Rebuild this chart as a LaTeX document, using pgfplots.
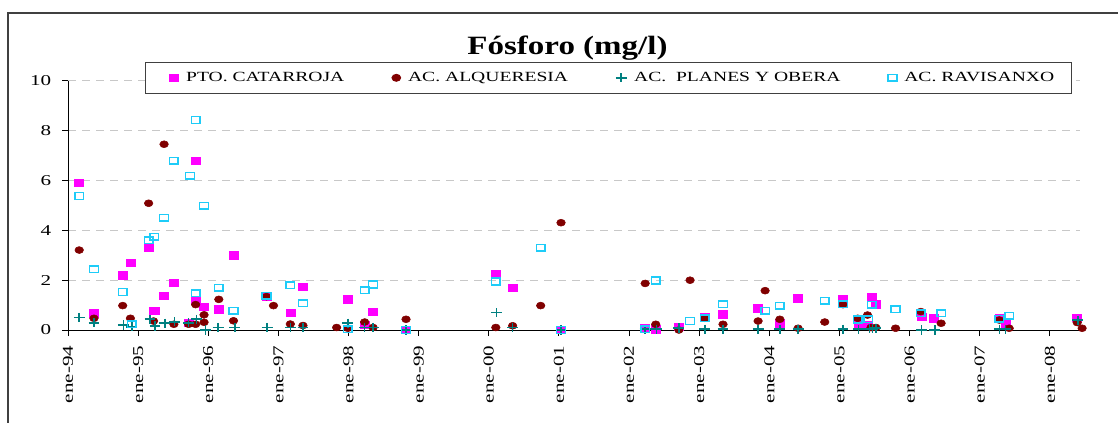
\documentclass[border=0pt]{standalone}
\usepackage{fontspec}
\setmainfont{Liberation Serif}[FakeStretch=1.4]
\newfontfamily\titlefont{Liberation Serif}[FakeStretch=1.25]
\usepackage{pgfplots}
\pgfplotsset{compat=1.18}
\pgfplotsset{firstlegend/.style={legend image code/.code={\path (-10.4pt,0pt); \draw[##1] plot coordinates {(0pt,0pt)};}}}
\definecolor{cPink}{HTML}{FF00FF}
\definecolor{cRed}{HTML}{800000}
\definecolor{cTeal}{HTML}{008080}
\definecolor{cCyan}{HTML}{1ECCF8}
\definecolor{cGrid}{HTML}{C8C8C8}
\definecolor{cFrame}{HTML}{404040}
\begin{document}
\begin{tikzpicture}
\useasboundingbox (0,0) rectangle (838.5pt,316.5pt);
\draw[cFrame, line width=1.2pt] (6pt,-2pt) -- (6pt,306.75pt) -- (840pt,306.75pt);
\begin{axis}[
  at={(51pt,69pt)}, anchor=south west,
  width=759pt, height=186.75pt, scale only axis,
  xmin=1994, xmax=2008.43, ymin=0, ymax=10,
  clip=false,
  axis lines*=left,
  axis line style={black, line width=0.75pt},
  tick align=outside, major tick length=4.5pt,
  tick style={black, line width=0.75pt},
  xtick={1994,1995,1996,1997,1998,1999,2000,2001,2002,2003,2004,2005,2006,2007,2008},
  xticklabels={ene-94,ene-95,ene-96,ene-97,ene-98,ene-99,ene-00,ene-01,ene-02,ene-03,ene-04,ene-05,ene-06,ene-07,ene-08},
  xticklabel style={rotate=90, anchor=east, font=\fontsize{11.3}{13}\selectfont},
  xticklabel shift=3.75pt,
  ytick={0,2,4,6,8,10},
  yticklabel style={font=\fontsize{11.3}{13}\selectfont, /pgf/number format/assume math mode=true},
  yticklabel shift=4.5pt,
  ymajorgrids,
  major grid style={cGrid, line width=0.75pt, dash pattern=on 6pt off 4.5pt},
  title={Fósforo (mg/l)},
  title style={at={(axis description cs:0.4936,1.10)}, anchor=center, font=\titlefont\bfseries\fontsize{19.8}{22}\selectfont},
  legend columns=4,
  legend style={at={(axis description cs:0.0761,1.0763)}, anchor=north west,
    draw=cFrame, line width=0.75pt, fill=white,
    font=\fontsize{10.5}{12}\selectfont,
    inner xsep=10.75pt, inner ysep=5.25pt,
    nodes={inner sep=2pt},
    cells={anchor=west},
    /tikz/every odd column/.append style={column sep=3.6pt},
    /tikz/every even column/.append style={column sep=33.75pt}},
  legend image code/.code={\draw[#1] plot coordinates {(0pt,0pt)};},
]
\addplot[only marks, mark=square*, mark size=2.75pt, color=cPink, mark options={xscale=1.23}, firstlegend] coordinates {
(1994.16,5.9)(1994.37,0.67)(1994.78,2.2)(1994.89,2.69)(1995.15,3.3)(1995.23,0.78)(1995.37,1.38)(1995.51,1.89)
(1995.72,0.29)(1995.82,6.8)(1995.82,1.2)(1995.94,0.93)(1996.15,0.83)(1996.36,3.0)(1996.83,1.34)(1997.17,0.68)
(1997.35,1.74)(1997.99,1.23)(1998.23,0.2)(1998.35,0.72)(1998.82,0.0)(2000.10,2.24)(2000.34,1.7)(2001.03,0.0)
(2002.23,0.07)(2002.38,0.03)(2002.71,0.13)(2003.08,0.53)(2003.34,0.63)(2003.84,0.87)(2004.15,0.27)(2004.41,1.27)
(2005.05,1.24)(2005.27,0.25)(2005.41,0.2)(2005.46,1.34)(2005.52,1.03)(2006.17,0.53)(2006.35,0.47)(2007.28,0.47)
(2007.37,0.27)(2008.39,0.49)
};
\addlegendentry{PTO. CATARROJA}
\addplot[only marks, mark=*, mark size=2.6pt, color=cRed, mark options={xscale=1.24}] coordinates {
(1994.16,3.21)(1994.37,0.47)(1994.78,0.98)(1994.89,0.47)(1995.15,5.09)(1995.22,0.36)(1995.37,7.46)(1995.51,0.23)
(1995.72,0.23)(1995.82,0.23)(1995.82,1.02)(1995.94,0.61)(1995.94,0.31)(1996.15,1.23)(1996.36,0.37)(1996.83,1.34)
(1996.93,0.98)(1997.17,0.24)(1997.35,0.18)(1997.83,0.1)(1997.99,0.07)(1998.23,0.32)(1998.35,0.1)(1998.82,0.43)
(2000.10,0.1)(2000.34,0.17)(2000.74,0.98)(2001.03,4.31)(2002.23,1.87)(2002.38,0.23)(2002.71,0.0)(2002.87,2.0)
(2003.08,0.47)(2003.34,0.23)(2003.84,0.36)(2003.94,1.58)(2004.15,0.43)(2004.41,0.07)(2004.79,0.32)(2005.05,1.02)
(2005.26,0.47)(2005.40,0.6)(2005.45,0.1)(2005.52,0.1)(2005.80,0.07)(2006.16,0.74)(2006.45,0.27)(2007.28,0.4)
(2007.42,0.07)(2008.39,0.3)(2008.46,0.07)
};
\addlegendentry{AC. ALQUERESIA}
\addplot[only marks, mark=+, mark size=3.4pt, color=cTeal, line width=1.2pt, mark options={xscale=1.2}] coordinates {
(1994.16,0.51)(1994.37,0.29)(1994.79,0.2)(1994.91,0.13)(1995.17,0.43)(1995.24,0.16)(1995.38,0.27)(1995.52,0.33)
(1995.72,0.29)(1995.83,0.43)(1995.96,0.0)(1996.14,0.1)(1996.38,0.1)(1996.84,0.1)(1997.17,0.1)(1997.35,0.1)
(1997.99,0.27)(1998.23,0.1)(1998.35,0.1)(1998.82,0.0)(2000.11,0.7)(2000.34,0.1)(2001.03,0.0)(2002.23,0.03)
(2002.39,0.03)(2002.71,0.08)(2003.08,0.03)(2003.34,0.03)(2003.84,0.03)(2004.15,0.03)(2004.41,0.03)(2005.05,0.03)
(2005.27,0.03)(2005.43,0.05)(2005.47,0.05)(2005.52,0.07)(2006.17,0.0)(2006.36,0.0)(2007.28,0.03)(2007.37,0.03)
(2008.40,0.39)
};
\addlegendentry{AC.\ \ PLANES Y OBERA}
\addplot[only marks, mark=square, mark size=2.5pt, color=cCyan, line width=1.1pt, mark options={xscale=1.3}] coordinates {
(1994.16,5.38)(1994.37,2.44)(1994.78,1.53)(1994.91,0.23)(1995.15,3.61)(1995.23,3.75)(1995.37,4.51)(1995.51,6.8)
(1995.74,6.2)(1995.82,8.43)(1995.82,1.47)(1995.94,4.99)(1996.15,1.7)(1996.36,0.78)(1996.83,1.38)(1997.17,1.8)
(1997.35,1.08)(1997.99,0.03)(1998.23,1.59)(1998.35,1.83)(1998.82,0.0)(2000.10,1.95)(2000.74,3.31)(2001.03,0.0)
(2002.23,0.03)(2002.38,1.99)(2002.87,0.36)(2003.08,0.47)(2003.34,1.04)(2003.94,0.78)(2004.15,0.98)(2004.79,1.18)
(2005.05,1.03)(2005.26,0.42)(2005.41,0.43)(2005.46,1.02)(2005.80,0.83)(2006.16,0.67)(2006.45,0.67)(2007.28,0.45)
(2007.42,0.57)
};
\addlegendentry{AC. RAVISANXO}
\end{axis}
\end{tikzpicture}
\end{document}
